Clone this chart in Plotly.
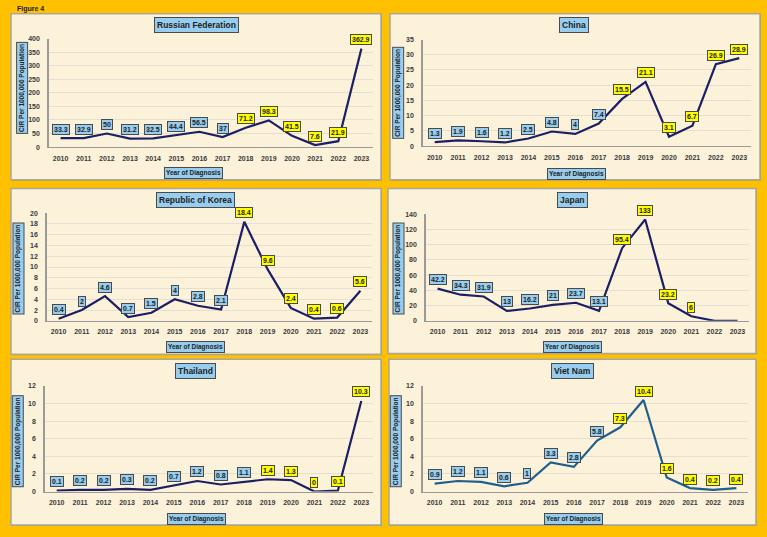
import plotly.graph_objects as go

years = list(range(2010, 2024))

russia = [33.3, 32.9, 50, 31.2, 32.5, 44.4, 56.5, 37, 71.2, 98.3, 41.5, 7.6, 21.9, 362.9]
china = [1.3, 1.9, 1.6, 1.2, 2.5, 4.8, 4, 7.4, 15.5, 21.1, 3.1, 6.7, 26.9, 28.9]
korea = [0.4, 2, 4.6, 0.7, 1.5, 4, 2.8, 2.1, 18.4, 9.6, 2.4, 0.4, 0.6, 5.6]
japan = [42.2, 34.3, 31.9, 13, 16.2, 21, 23.7, 13.1, 95.4, 133, 23.2, 6, 0, 0]
thailand = [0.1, 0.2, 0.2, 0.3, 0.2, 0.7, 1.2, 0.8, 1.1, 1.4, 1.3, 0, 0.1, 10.3]
vietnam = [0.9, 1.2, 1.1, 0.6, 1, 3.3, 2.8, 5.8, 7.3, 10.4, 1.6, 0.4, 0.2, 0.4]

titles = ["Russian Federation", "China", "Republic of Korea", "Japan", "Thailand", "Viet Nam"]
series = [russia, china, korea, japan, thailand, vietnam]
y_max = [400, 35, 20, 140, 12, 12]
y_step = [50, 5, 2, 20, 2, 2]
highlight_from = [2018, 2018, 2018, 2018, 2019, 2018]
label_until = [2023, 2023, 2023, 2021, 2023, 2023]
line_colors = ["#1C1F66", "#1C1F66", "#1C1F66", "#1C1F66", "#1C1F66", "#1F5F8E"]

x_title = "Year of Diagnosis"
y_title = "CIR Per 1000,000 Population"

W, H = 767, 537
# layout geometry in pixels
panels = [(11, 10, 381, 178), (390, 10, 760, 178),
          (11, 187, 381, 355), (388, 187, 756, 354),
          (11, 360, 381, 528), (389, 360, 756, 528)]
plots = [(49, 373, 35, 145), (423, 751, 36, 144),
         (47, 372, 212, 321), (426, 749, 213, 321),
         (45, 373, 387, 494), (423, 748, 387, 494)]
title_pos = [(196, 21), (574, 21), (195, 199), (572, 199), (195, 372), (572, 372)]
xt_pos = [(193, 171), (576, 172), (195, 348), (572, 348), (196, 522), (573, 522)]
yt_pos = [(22, 85), (398, 90), (18, 268), (398, 268), (18, 443), (396, 443)]

BLUE = "#97CDEE"
YELLOW = "#FFFF00"
CREAM = "#FCF2DA"
FONT = "Liberation Sans"

fig = go.Figure()
shapes = []
annotations = []
layout = dict(width=W, height=H, margin=dict(l=0, r=0, t=0, b=0),
              paper_bgcolor="#FFC000", plot_bgcolor="rgba(0,0,0,0)", showlegend=False)

def px(x):
    return x / W

def py(y):
    return 1 - y / H

for i in range(6):
    sfx = "" if i == 0 else str(i + 1)
    xa, ya = "x" + sfx, "y" + sfx
    x0, y0, x1, y1 = panels[i]
    # shadow and panel
    shapes.append(dict(type="rect", xref="paper", yref="paper",
                       x0=px(x0 + 1), x1=px(x1 + 1), y0=py(y1 + 1), y1=py(y0 + 1),
                       fillcolor="#B89A3A", line=dict(width=0), layer="below"))
    shapes.append(dict(type="rect", xref="paper", yref="paper",
                       x0=px(x0), x1=px(x1), y0=py(y1), y1=py(y0),
                       fillcolor=CREAM, line=dict(color="#A8A8A0", width=1.5), layer="below"))
    l, r, t, b = plots[i]
    layout["xaxis" + sfx] = dict(domain=[px(l), px(r)], anchor=ya, range=[2009.5, 2023.5],
                                 tickvals=years, ticktext=[str(v) for v in years],
                                 showgrid=False, zeroline=False, showline=True,
                                 linecolor="#9A9A9A", linewidth=1, ticks="",
                                 tickfont=dict(family=FONT, size=7, color="#3A3A3A", weight="bold"),
                                 ticklabelstandoff=4, fixedrange=True)
    layout["yaxis" + sfx] = dict(domain=[py(b), py(t)], anchor=xa, range=[0, y_max[i]],
                                 dtick=y_step[i], tick0=0, showgrid=True, gridcolor="#E4DFD2",
                                 gridwidth=1, zeroline=False, showline=True,
                                 linecolor="#9A9A9A", linewidth=1.5, ticks="",
                                 tickfont=dict(family=FONT, size=7, color="#3A3A3A", weight="bold"),
                                 ticklabelstandoff=6, fixedrange=True)
    fig.add_trace(go.Scatter(x=years, y=series[i], mode="lines", xaxis=xa, yaxis=ya,
                             line=dict(color=line_colors[i], width=2.2), hoverinfo="skip"))
    # data labels
    for yr, v in zip(years, series[i]):
        if yr > label_until[i]:
            continue
        annotations.append(dict(x=yr, y=v, xref=xa, yref=ya, text=str(v), showarrow=False,
                                yanchor="middle", yshift=9,
                                font=dict(family=FONT, size=7, color="#222222", weight="bold"),
                                bgcolor=YELLOW if yr >= highlight_from[i] else BLUE,
                                bordercolor="#4A4A4A", borderwidth=1, borderpad=1))
    # chart title
    tx, ty = title_pos[i]
    annotations.append(dict(x=px(tx), y=py(ty), xref="paper", yref="paper", text=titles[i],
                            showarrow=False, xanchor="center", yanchor="middle",
                            font=dict(family=FONT, size=8.5, color="#222222", weight="bold"),
                            bgcolor=BLUE, bordercolor="#4A4A4A", borderwidth=1, borderpad=2))
    # axis titles
    xx, xy = xt_pos[i]
    annotations.append(dict(x=px(xx), y=py(xy), xref="paper", yref="paper", text=x_title,
                            showarrow=False, xanchor="center", yanchor="middle",
                            font=dict(family=FONT, size=6.5, color="#222222", weight="bold"),
                            bgcolor=BLUE, bordercolor="#4A4A4A", borderwidth=1, borderpad=1))
    yx, yy = yt_pos[i]
    annotations.append(dict(x=px(yx), y=py(yy), xref="paper", yref="paper", text=y_title,
                            showarrow=False, xanchor="center", yanchor="middle", textangle=-90,
                            font=dict(family=FONT, size=6.5, color="#222222", weight="bold"),
                            bgcolor=BLUE, bordercolor="#4A4A4A", borderwidth=1, borderpad=1))

annotations.append(dict(x=px(15), y=py(5), xref="paper", yref="paper", text="Figure 4",
                        showarrow=False, xanchor="left", yanchor="middle",
                        font=dict(family=FONT, size=7, color="#1A1A1A", weight="bold")))

layout["shapes"] = shapes
layout["annotations"] = annotations
fig.update_layout(**layout)
fig.write_html("out.html")
